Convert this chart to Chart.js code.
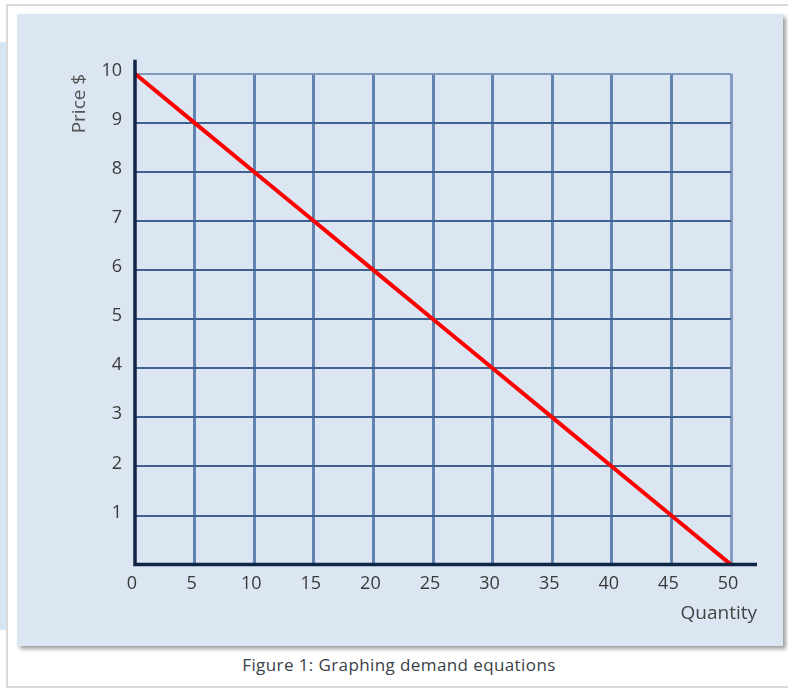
<!DOCTYPE html>
<html>
<head>
<meta charset="utf-8">
<script src="https://cdn.jsdelivr.net/npm/chart.js@4/dist/chart.umd.min.js"></script>
<style>
  html, body { margin: 0; padding: 0; background: #ffffff; }
  body { width: 788px; height: 690px; position: relative; overflow: hidden; font-family: "Open Sans", sans-serif; }
  #strip { position: absolute; left: 0; top: 42px; width: 8px; height: 588px; background: #d5e7f5; }
  #card { position: absolute; left: 6px; top: 4px; width: 790px; height: 680px; border: 2px solid #dadada; border-right: none; background: #ffffff; }
  #panel { position: absolute; left: 17px; top: 14px; width: 766px; height: 632px; background: #dce6f2; box-shadow: 3px 3px 4px rgba(0,0,0,0.38); }
  #wrap { position: absolute; left: 60px; top: 50px; width: 697px; height: 575px; }
  #caption { position: absolute; left: 0; width: 798px; top: 653px; text-align: center; font-size: 17px; letter-spacing: 0.4px; color: #3a3f47; }
</style>
</head>
<body>
<div id="strip"></div>
<div id="card"></div>
<div id="panel"></div>
<div id="wrap"><canvas id="c" width="697" height="575"></canvas></div>
<div id="caption">Figure 1: Graphing demand equations</div>
<script>
// Data
const quantity = [0, 5, 10, 15, 20, 25, 30, 35, 40, 45, 50];
const price    = [10, 9, 8, 7, 6, 5, 4, 3, 2, 1, 0];
const xTitle = 'Quantity';
const yTitle = 'Price $';

const tickFont = { family: '"Open Sans", sans-serif', size: 18 };
const titleFont = { family: '"Open Sans", sans-serif', size: 19, weight: 'normal' };

const axisExtend = {
  id: 'axisExtend',
  afterDatasetsDraw(chart) {
    const { ctx, chartArea, scales } = chart;
    const x0 = scales.x.getPixelForValue(0);
    const y0 = scales.y.getPixelForValue(0);
    ctx.save();
    ctx.strokeStyle = '#0f2545';
    ctx.lineWidth = 3.5;
    ctx.beginPath();
    ctx.moveTo(x0, chartArea.top - 14);
    ctx.lineTo(x0, y0);
    ctx.lineTo(chartArea.right + 26, y0);
    ctx.stroke();
    ctx.restore();
  }
};

new Chart(document.getElementById('c'), {
  type: 'line',
  data: {
    datasets: [{
      data: quantity.map((q, i) => ({ x: q, y: price[i] })),
      borderColor: '#ff0000',
      borderWidth: 4,
      pointRadius: 0,
      tension: 0,
      clip: false
    }]
  },
  options: {
    responsive: false,
    animation: false,
    devicePixelRatio: 1,
    layout: { padding: { top: 14, left: 0, right: 0, bottom: 0 } },
    scales: {
      x: {
        type: 'linear',
        min: 0, max: 50,
        border: { display: false },
        grid: {
          drawTicks: false,
          lineWidth: 3,
          color: (c) => c.tick && c.tick.value === 0 ? 'rgba(0,0,0,0)' : (c.tick && c.tick.value === 50 ? '#839cc0' : '#6283b0')
        },
        ticks: { stepSize: 5, padding: 8, labelOffset: -3, color: '#3a3a3a', font: tickFont, maxRotation: 0 }
      },
      y: {
        type: 'linear',
        min: 0, max: 10,
        border: { display: false },
        grid: {
          drawTicks: false,
          lineWidth: 2,
          color: (c) => c.tick && c.tick.value === 0 ? 'rgba(0,0,0,0)' : (c.tick && c.tick.value === 10 ? '#7f99be' : '#3e6192')
        },
        ticks: {
          stepSize: 1, padding: 13, labelOffset: -3, color: '#3a3a3a', font: tickFont,
          callback: (v) => v === 0 ? '' : String(v)
        },
        title: { display: true, text: yTitle, align: 'end', color: '#555555', font: titleFont, padding: { top: 8, bottom: 0 } },
        afterFit: (s) => { s.width = 75; }
      },
      y2: {
        type: 'linear', position: 'right', min: 0, max: 1,
        border: { display: false },
        grid: { display: false },
        ticks: { display: false },
        afterFit: (s) => { s.width = 26; }
      }
    },
    plugins: {
      legend: { display: false },
      tooltip: { enabled: false },
      title: {
        display: true, text: xTitle, position: 'bottom', align: 'end',
        color: '#444444', font: titleFont,
        padding: { top: 0, bottom: 0 }
      }
    }
  },
  plugins: [axisExtend]
});
</script>
</body>
</html>
